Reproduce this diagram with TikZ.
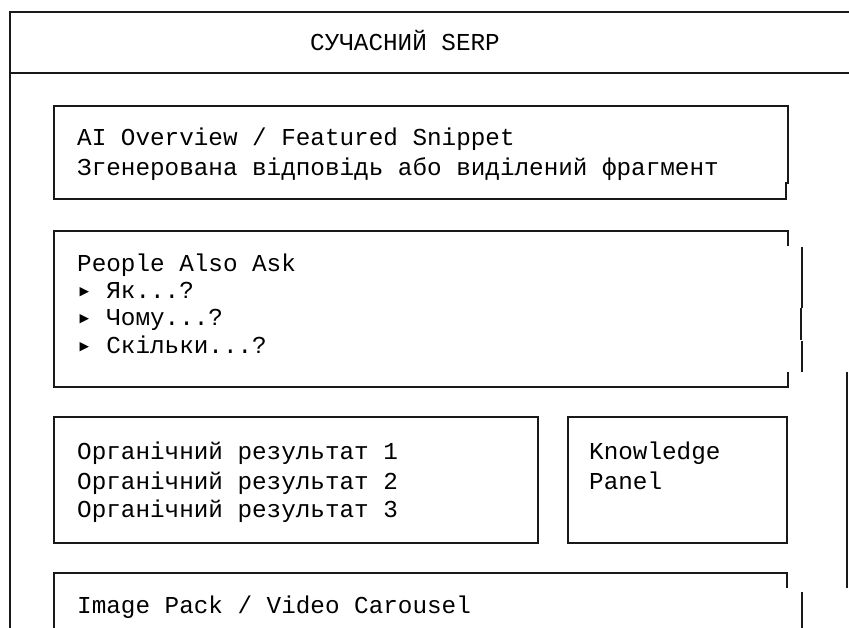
\documentclass[tikz,border=0pt]{standalone}
\usepackage{fontspec}
\setmonofont{Liberation Mono}
\newfontfamily\symfont{DejaVu Sans Mono}
\newcommand{\tri}{{\symfont ▸}}
\usetikzlibrary{positioning}

\tikzset{
    frame/.style={line width=2.2pt, black!90},
    txt/.style={anchor=base west, inner sep=0pt, font=\ttfamily\fontsize{24.3}{28}\selectfont}
}

\begin{document}
\begin{tikzpicture}[x=1pt, y=-1pt]
    \useasboundingbox (0,0) rectangle (849,628);

    % Outer frame with header
    \draw[frame] (849,12) -- (10,12) -- (10,628);
    \draw[frame] (10,73) -- (849,73);
    \node[txt] (title) at (310,51) {СУЧАСНИЙ SERP};

    % AI Overview box
    \draw[frame] (54,106) -- (788,106) -- (788,183) -- (786,183) -- (786,199) -- (54,199) -- cycle;
    \node[txt] (aiover) at (77,146) {AI Overview / Featured Snippet};
    \node[txt] (aitext) at (77,176) {Згенерована відповідь або виділений фрагмент};

    % People Also Ask box
    \draw[frame] (788,246) -- (788,231) -- (54,231) -- (54,387) -- (788,387) -- (788,372);
    \draw[frame] (802,247) -- (802,308);
    \draw[frame] (801,308) -- (801,340);
    \draw[frame] (802,341) -- (802,372);
    \node[txt] (paa) at (77,272) {People Also Ask};
    \node[txt] (paa1) at (77,299) {\tri{} Як...?};
    \node[txt] (paa2) at (77,326) {\tri{} Чому...?};
    \node[txt] (paa3) at (77,353) {\tri{} Скільки...?};

    % long right edge
    \draw[frame] (847,372) -- (847,588);

    % Organic results and Knowledge Panel
    \draw[frame] (54,417) rectangle (538,543);
    \node[txt] (org1) at (77,459) {Органічний результат 1};
    \node[txt] (org2) at (77,489) {Органічний результат 2};
    \node[txt] (org3) at (77,517) {Органічний результат 3};

    \draw[frame] (568,417) rectangle (787,543);
    \node[txt] (kp1) at (589,459) {Knowledge};
    \node[txt] (kp2) at (589,489) {Panel};

    % Image Pack box
    \draw[frame] (54,628) -- (54,573) -- (787,573) -- (787,588);
    \draw[frame] (802,592) -- (802,628);
    \node[txt] (imgpack) at (77,613) {Image Pack / Video Carousel};
\end{tikzpicture}
\end{document}
